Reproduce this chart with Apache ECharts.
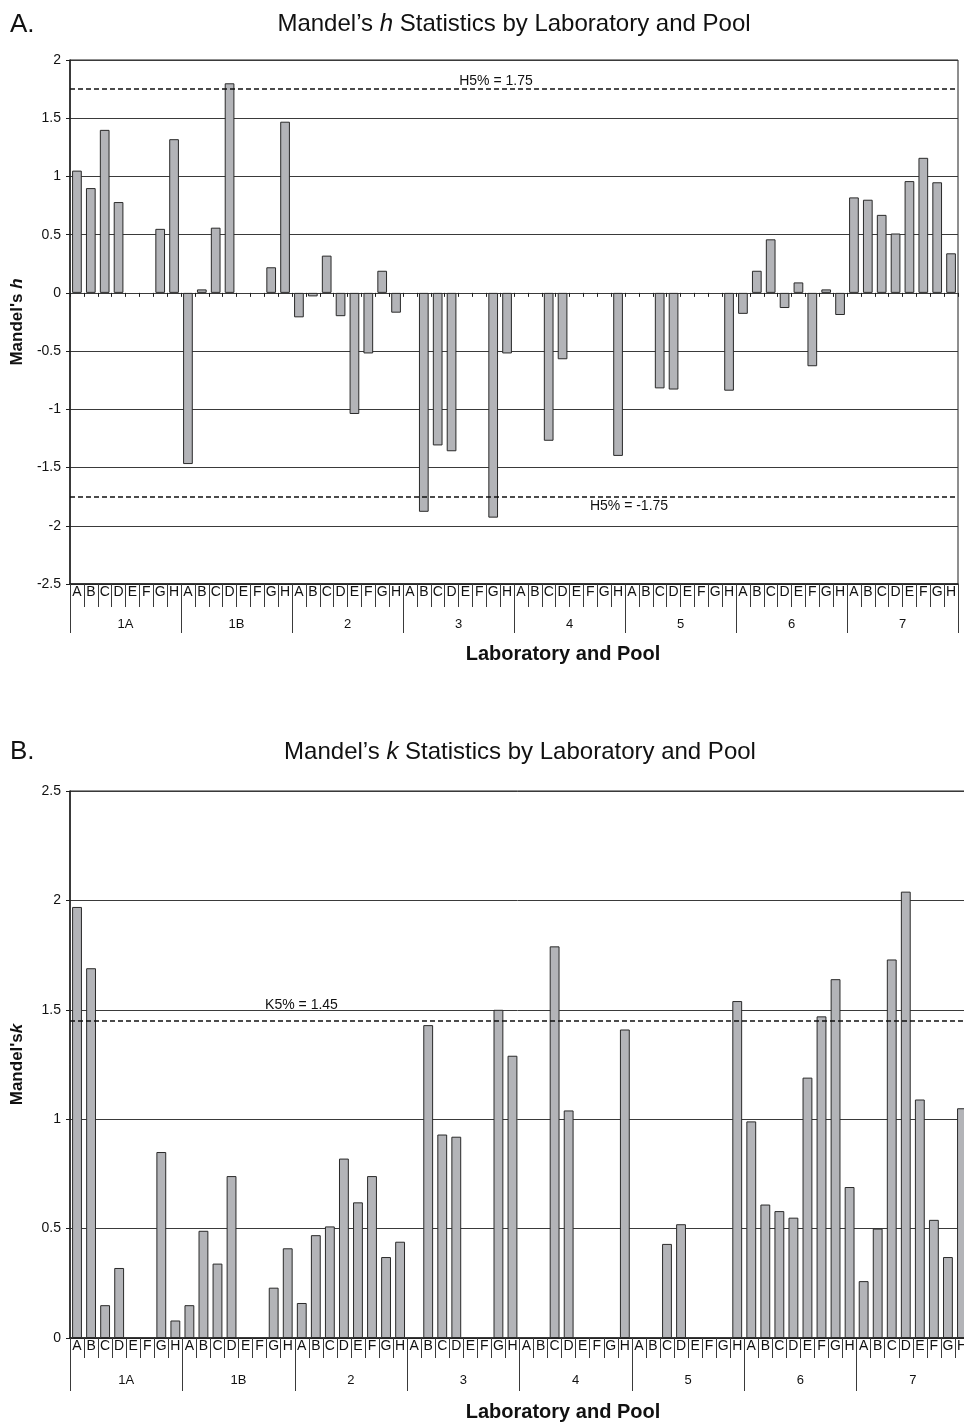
<!DOCTYPE html>
<html><head><meta charset="utf-8">
<script src="https://cdn.jsdelivr.net/npm/echarts@6/dist/echarts.min.js"></script>
<style>html,body{margin:0;padding:0;background:#fff}#c{width:964px;height:1424px}</style>
</head><body><div id="c"></div>
<script>
// ---- tick/category labels ----
const labs = ['A','B','C','D','E','F','G','H'];
const pools = ['1A','1B','2','3','4','5','6','7'];

// ---- Mandel's h values per pool (labs A..H) ----
const h1A = [1.05, 0.90, 1.40, 0.78, null, null, 0.55, 1.32];
const h1B = [-1.47, 0.03, 0.56, 1.80, null, null, 0.22, 1.47];
const h2  = [-0.21, -0.03, 0.32, -0.20, -1.04, -0.52, 0.19, -0.17];
const h3  = [null, -1.88, -1.31, -1.36, null, null, -1.93, -0.52];
const h4  = [null, null, -1.27, -0.57, null, null, null, -1.40];
const h5  = [null, null, -0.82, -0.83, null, null, null, -0.84];
const h6  = [-0.18, 0.19, 0.46, -0.13, 0.09, -0.63, 0.03, -0.19];
const h7  = [0.82, 0.80, 0.67, 0.51, 0.96, 1.16, 0.95, 0.34];

// ---- Mandel's k values per pool (labs A..H) ----
const k1A = [1.97, 1.69, 0.15, 0.32, null, null, 0.85, 0.08];
const k1B = [0.15, 0.49, 0.34, 0.74, null, null, 0.23, 0.41];
const k2  = [0.16, 0.47, 0.51, 0.82, 0.62, 0.74, 0.37, 0.44];
const k3  = [null, 1.43, 0.93, 0.92, null, null, 1.50, 1.29];
const k4  = [null, null, 1.79, 1.04, null, null, null, 1.41];
const k5  = [null, null, 0.43, 0.52, null, null, null, 1.54];
const k6  = [0.99, 0.61, 0.58, 0.55, 1.19, 1.47, 1.64, 0.69];
const k7  = [0.26, 0.50, 1.73, 2.04, 1.09, 0.54, 0.37, 1.05];

// ---- critical values ----
const hCrit = 1.75;
const kCrit = 1.45;

// ---- build ----
const hData = [].concat(h1A, h1B, h2, h3, h4, h5, h6, h7);
const kData = [].concat(k1A, k1B, k2, k3, k4, k5, k6, k7);
const cats = [];
pools.forEach(p => labs.forEach(l => cats.push(p + '|' + l)));

const FF = '"Liberation Sans", Arial, Helvetica, sans-serif';
const DARK = '#1e1e1e';
const GRID = '#3a3a3a';
const BAR = '#b3b4b8';

function letterAxis(gi, tickLen) {
  return {
    gridIndex: gi, type: 'category', data: cats, position: 'bottom',
    axisLine: { show: true, onZero: false, lineStyle: { color: DARK, width: 1.5 } },
    axisTick: { show: true, interval: 0, length: tickLen, lineStyle: { color: GRID, width: 1 } },
    axisLabel: { interval: 0, margin: 1, fontSize: 14, fontFamily: FF, color: '#111',
      formatter: v => v.split('|')[1] },
    splitLine: { show: false }
  };
}
function poolAxis(gi, tickLen, margin) {
  return {
    gridIndex: gi, type: 'category', data: pools, position: 'bottom',
    axisLine: { show: false, onZero: false },
    axisTick: { show: true, interval: 0, length: tickLen, lineStyle: { color: GRID, width: 1 } },
    axisLabel: { interval: 0, margin: margin, fontSize: 13, fontFamily: FF, color: '#111' },
    splitLine: { show: false }
  };
}
function valueAxis(gi, min, max, nameText) {
  return {
    gridIndex: gi, type: 'value', min: min, max: max, interval: 0.5,
    axisLine: { show: true, lineStyle: { color: DARK, width: 1.5 } },
    axisTick: { show: true, length: 4, lineStyle: { color: DARK } },
    axisLabel: { fontSize: 14, fontFamily: FF, color: '#111', margin: 9 },
    splitLine: { show: true, lineStyle: { color: GRID, width: 1 } },
    name: nameText, nameLocation: 'middle', nameRotate: 90, nameGap: 44,
    nameTextStyle: {
      rich: {
        b: { fontSize: 17, fontWeight: 'bold', fontFamily: FF, color: '#111' },
        bi: { fontSize: 17, fontWeight: 'bold', fontStyle: 'italic', fontFamily: FF, color: '#111' }
      }
    }
  };
}
function critLine(value, text, pos, padding, distance) {
  return {
    yAxis: value,
    label: { show: true, formatter: text, position: pos, padding: padding, distance: distance,
      fontSize: 14, fontFamily: FF, color: '#111' }
  };
}

const chart = echarts.init(document.getElementById('c'), null, { renderer: 'canvas' });
chart.setOption({
  animation: false,
  backgroundColor: '#fff',
  grid: [
    { left: 70, top: 60, width: 888, height: 524, show: true, borderColor: DARK, borderWidth: 1,
      containLabel: false, outerBoundsMode: 'none' },
    { left: 70, top: 791, width: 899, height: 547, show: true, borderColor: DARK, borderWidth: 1,
      containLabel: false, outerBoundsMode: 'none' }
  ],
  xAxis: [
    letterAxis(0, 23),
    poolAxis(0, 49, 34),
    { // zero line with small ticks
      gridIndex: 0, type: 'category', data: cats, position: 'bottom',
      axisLine: { show: true, onZero: true, lineStyle: { color: GRID, width: 1 } },
      axisTick: { show: true, interval: 0, length: 4, lineStyle: { color: DARK } },
      axisLabel: { show: false }, splitLine: { show: false }
    },
    letterAxis(1, 20),
    poolAxis(1, 53, 36)
  ],
  yAxis: [
    valueAxis(0, -2.5, 2, "{b|Mandel's }{bi|h}"),
    valueAxis(1, 0, 2.5, "{b|Mandel's}{bi|k}")
  ],
  series: [
    {
      type: 'bar', xAxisIndex: 0, yAxisIndex: 0, data: hData, barWidth: '70%',
      itemStyle: { color: BAR, borderColor: '#2a2a2a', borderWidth: 1 },
      markLine: {
        silent: true, symbol: ['none', 'none'],
        lineStyle: { type: [5, 3], color: '#111', width: 1.5 },
        data: [
          critLine(hCrit, 'H5% = ' + hCrit, 'insideMiddleTop', [0, 36, 0, 0], 1),
          critLine(-hCrit, 'H5% = ' + (-hCrit), 'insideMiddleBottom', [0, 0, 0, 230], 2)
        ]
      }
    },
    {
      type: 'bar', xAxisIndex: 3, yAxisIndex: 1, data: kData, barWidth: '70%',
      itemStyle: { color: BAR, borderColor: '#2a2a2a', borderWidth: 1 },
      markLine: {
        silent: true, symbol: ['none', 'none'],
        lineStyle: { type: [5, 3], color: '#111', width: 1.5 },
        data: [
          critLine(kCrit, 'K5% = ' + kCrit, 'insideMiddleTop', [0, 436, 0, 0], 9)
        ]
      }
    }
  ],
  graphic: [
    { type: 'text', x: 10, y: 25, style: { text: 'A.', fontSize: 26, fontFamily: FF, fill: '#111', align: 'left', verticalAlign: 'middle' } },
    { type: 'text', x: 514, y: 24, style: {
        text: '{n|Mandel’s }{i|h}{n| Statistics by Laboratory and Pool}',
        rich: { n: { fontSize: 24, fontFamily: FF, fill: '#111' }, i: { fontSize: 24, fontStyle: 'italic', fontFamily: FF, fill: '#111' } },
        align: 'center', verticalAlign: 'middle' } },
    { type: 'text', x: 563, y: 654, style: { text: 'Laboratory and Pool', fontSize: 20, fontWeight: 'bold', fontFamily: FF, fill: '#111', align: 'center', verticalAlign: 'middle' } },
    { type: 'text', x: 10, y: 752, style: { text: 'B.', fontSize: 26, fontFamily: FF, fill: '#111', align: 'left', verticalAlign: 'middle' } },
    { type: 'text', x: 520, y: 752, style: {
        text: '{n|Mandel’s }{i|k}{n| Statistics by Laboratory and Pool}',
        rich: { n: { fontSize: 24, fontFamily: FF, fill: '#111' }, i: { fontSize: 24, fontStyle: 'italic', fontFamily: FF, fill: '#111' } },
        align: 'center', verticalAlign: 'middle' } },
    { type: 'text', x: 563, y: 1412, style: { text: 'Laboratory and Pool', fontSize: 20, fontWeight: 'bold', fontFamily: FF, fill: '#111', align: 'center', verticalAlign: 'middle' } }
  ]
});
</script>
</body></html>
